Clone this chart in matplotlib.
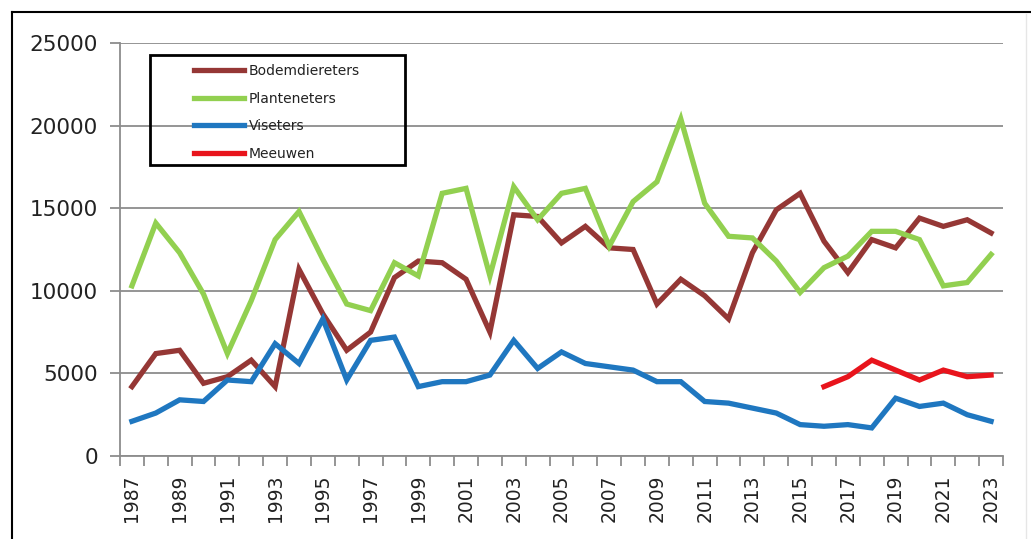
import numpy as np
import matplotlib
matplotlib.use("Agg")
import matplotlib.pyplot as plt
from matplotlib.lines import Line2D
from matplotlib.patches import Rectangle

years = list(range(1987, 2024))

bodem = [4200, 6200, 6400, 4400, 4800, 5800, 4200, 11300, 8600, 6400,
         7500, 10800, 11800, 11700, 10700, 7500, 14600, 14500, 12900, 13900,
         12600, 12500, 9200, 10700, 9700, 8300, 12300, 14900, 15900, 13000,
         11100, 13100, 12600, 14400, 13900, 14300, 13500]
planten = [10300, 14100, 12300, 9800, 6200, 9400, 13100, 14800, 11900, 9200,
           8800, 11700, 10900, 15900, 16200, 10900, 16300, 14300, 15900, 16200,
           12700, 15400, 16600, 20400, 15300, 13300, 13200, 11800, 9900, 11400,
           12100, 13600, 13600, 13100, 10300, 10500, 12200]
vis = [2100, 2600, 3400, 3300, 4600, 4500, 6800, 5600, 8300, 4600,
       7000, 7200, 4200, 4500, 4500, 4900, 7000, 5300, 6300, 5600,
       5400, 5200, 4500, 4500, 3300, 3200, 2900, 2600, 1900, 1800,
       1900, 1700, 3500, 3000, 3200, 2500, 2100]
meeuw_years = list(range(2016, 2024))
meeuw = [4200, 4800, 5800, 5200, 4600, 5200, 4800, 4900]

labels = ["Bodemdiereters", "Planteneters", "Viseters", "Meeuwen"]
colors = ["#953735", "#92D050", "#1F77C0", "#E8141C"]

W, H = 1031, 539
fig = plt.figure(figsize=(W / 100, H / 100), dpi=100)
ax = fig.add_axes([120 / W, 1 - 456 / H, (1003 - 120) / W, (456 - 43) / H])

x = np.arange(len(years))
xm = np.array([years.index(y) for y in meeuw_years])
series = [(x, bodem), (x, planten), (x, vis), (xm, meeuw)]
handles = []
for (xx, yy), c, lab in zip(series, colors, labels):
    h, = ax.plot(xx, yy, color=c, lw=3.8, label=lab, solid_joinstyle="miter", zorder=3)
    handles.append(h)

ax.set_xlim(-0.5, len(years) - 0.5)
ax.set_ylim(0, 25000)
ax.set_yticks(range(0, 25001, 5000))
ax.yaxis.grid(True, color="#8c8c8c", lw=1.3)
ax.set_axisbelow(True)
for s in ["top", "right"]:
    ax.spines[s].set_visible(False)
for s in ["left", "bottom"]:
    ax.spines[s].set_color("#8c8c8c")
    ax.spines[s].set_linewidth(1.3)

ax.tick_params(axis="y", length=7, width=1.3, color="#8c8c8c", pad=9,
               labelsize=15.5, labelcolor="#222222")
ax.set_xticks(x[::2])
ax.set_xticklabels([str(y) for y in years[::2]], rotation=90)
ax.set_xticks(np.arange(-0.5, len(years), 1), minor=True)
ax.tick_params(axis="x", which="major", length=0, pad=13, labelsize=13.5,
               labelcolor="#222222")
ax.tick_params(axis="x", which="minor", length=7, width=1.3, color="#8c8c8c")

leg = fig.legend(handles=handles, loc="upper left",
                 bbox_to_anchor=(183 / W, 1 - 53 / H), frameon=False,
                 fontsize=10, handlelength=3.6, handletextpad=0.35,
                 labelspacing=0.98, borderpad=0.3)
for t in leg.get_texts():
    t.set_color("#222222")
fig.patches.append(Rectangle((150 / W, 1 - 165 / H), 255 / W, 110 / H,
                             transform=fig.transFigure, fill=False,
                             edgecolor="black", lw=2, zorder=5))

# outer picture frame
fig.lines.append(Line2D([11.5 / W, 11.5 / W], [0, 1 - 12 / H], transform=fig.transFigure,
                        color="black", lw=1.5))
fig.lines.append(Line2D([11.5 / W, 1], [1 - 12 / H, 1 - 12 / H], transform=fig.transFigure,
                        color="black", lw=1.5))
fig.lines.append(Line2D([1026 / W, 1026 / W], [0, 1 - 14 / H], transform=fig.transFigure,
                        color="#e6e6e6", lw=1))

fig.savefig("out.png", dpi=100)
